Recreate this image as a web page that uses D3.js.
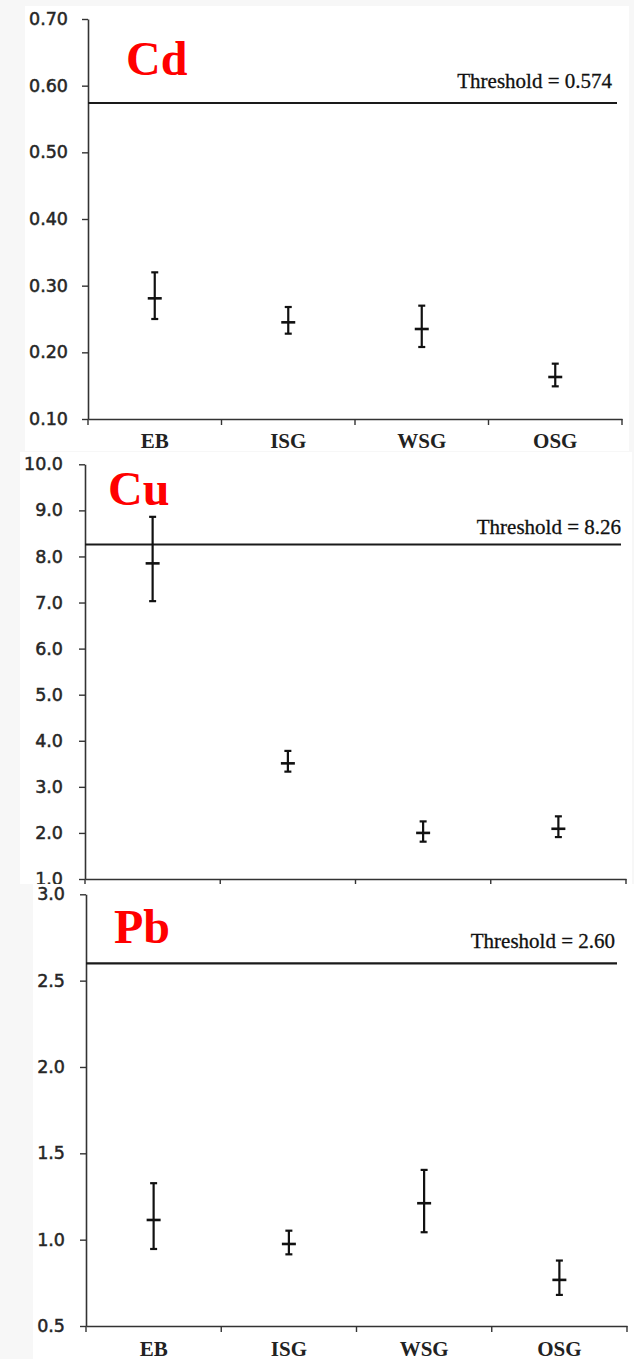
<!DOCTYPE html>
<html>
<head>
<meta charset="utf-8">
<script src="https://cdn.jsdelivr.net/npm/d3@7"></script>
<style>
  html, body { margin: 0; padding: 0; background: #f7f7f7; }
  svg { display: block; }
  .tick-label { font-family: "DejaVu Sans", sans-serif; font-size: 17.5px; fill: #262626; stroke: #262626; stroke-width: 0.5px; }
  .cat-label { font-family: "Liberation Serif", "Times New Roman", serif; font-weight: bold; font-size: 21px; fill: #222; }
  .thr-label { font-family: "Liberation Serif", "Times New Roman", serif; font-size: 21px; fill: #111; stroke: #111; stroke-width: 0.3px; }
  .elem-label { font-family: "Liberation Serif", "Times New Roman", serif; font-weight: bold; font-size: 48px; fill: #ff0000; }
</style>
</head>
<body>
<script>
const categories = ['EB', 'ISG', 'WSG', 'OSG'];

// Cd
const cdMean = [0.281, 0.245, 0.235, 0.163];
const cdUpper = [0.320, 0.268, 0.270, 0.183];
const cdLower = [0.250, 0.228, 0.208, 0.149];
const cdTicks = [0.10, 0.20, 0.30, 0.40, 0.50, 0.60, 0.70];
const cdThreshold = 0.574;

// Cu
const cuMean = [7.85, 3.51, 2.00, 2.09];
const cuUpper = [8.86, 3.78, 2.25, 2.36];
const cuLower = [7.03, 3.33, 1.81, 1.91];
const cuTicks = [1.0, 2.0, 3.0, 4.0, 5.0, 6.0, 7.0, 8.0, 9.0, 10.0];
const cuThreshold = 8.26;

// Pb
const pbMean = [1.114, 0.975, 1.211, 0.767];
const pbUpper = [1.327, 1.052, 1.404, 0.879];
const pbLower = [0.946, 0.915, 1.043, 0.680];
const pbTicks = [0.5, 1.0, 1.5, 2.0, 2.5, 3.0];
const pbThreshold = 2.60;

const W = 634, H = 1359;
const svg = d3.select('body').append('svg').attr('width', W).attr('height', H);

const panels = [
  { name: 'Cd', mean: cdMean, upper: cdUpper, lower: cdLower, ticks: cdTicks, thr: cdThreshold, fmt: '.2f', thrText: 'Threshold = 0.574',
    bg: [25, 6, 604, 445], left: 88, right: 622, top: 19, bottom: 419, pad: 14,
    thrEnd: 617, thrLabel: [612, 88], elem: [126, 75], cats: true, catDy: 29 },
  { name: 'Cu', mean: cuMean, upper: cuUpper, lower: cuLower, ticks: cuTicks, thr: cuThreshold, fmt: '.1f', thrText: 'Threshold = 8.26',
    bg: [20, 452, 612, 432], left: 85, right: 626, top: 464.3, bottom: 879, pad: 16,
    thrEnd: 621, thrLabel: [621, 534], elem: [108, 505], cats: false, catDy: 29 },
  { name: 'Pb', mean: pbMean, upper: pbUpper, lower: pbLower, ticks: pbTicks, thr: pbThreshold, fmt: '.1f', thrText: 'Threshold = 2.60',
    bg: [33, 884, 601, 475], left: 86, right: 627, top: 894.3, bottom: 1326, pad: 15,
    thrEnd: 617, thrLabel: [615, 948], elem: [114, 943], cats: true, catDy: 30 }
];

panels.forEach(p => {
  const g = svg.append('g').attr('class', 'panel-' + p.name);

  g.append('rect')
    .attr('x', p.bg[0]).attr('y', p.bg[1])
    .attr('width', p.bg[2]).attr('height', p.bg[3])
    .attr('fill', '#fff');

  const x = d3.scaleBand().domain(categories).range([p.left, p.right]).padding(0);
  const y = d3.scaleLinear().domain([p.ticks[0], p.ticks[p.ticks.length - 1]]).range([p.bottom, p.top]);

  // y axis
  const yAxis = g.append('g')
    .attr('transform', `translate(${p.left},0)`)
    .call(d3.axisLeft(y).tickValues(p.ticks).tickFormat(d3.format(p.fmt)).tickSize(6).tickSizeOuter(0).tickPadding(p.pad));
  yAxis.select('.domain').attr('stroke', '#333').attr('stroke-width', 1.6);
  yAxis.selectAll('.tick line').attr('stroke', '#333').attr('stroke-width', 1.4);
  yAxis.selectAll('.tick text').attr('class', 'tick-label').attr('fill', null);
  yAxis.attr('font-family', null).attr('font-size', null);

  // x axis: line, ticks on category boundaries, labels under centres
  const xAxis = g.append('g')
    .attr('transform', `translate(0,${p.bottom})`)
    .call(d3.axisBottom(x).tickSize(0).tickSizeOuter(0));
  xAxis.select('.domain').attr('stroke', '#333').attr('stroke-width', 1.6);
  xAxis.attr('font-family', null).attr('font-size', null);
  if (p.cats) {
    xAxis.selectAll('.tick text').attr('class', 'cat-label').attr('fill', null).attr('dy', null)
      .attr('y', p.catDy);
  } else {
    xAxis.selectAll('.tick text').remove();
  }
  const bounds = categories.map(c => x(c)).concat([x.range()[1]]);
  xAxis.selectAll('.bound')
    .data(bounds)
    .join('line')
    .attr('class', 'bound')
    .attr('x1', d => d).attr('x2', d => d)
    .attr('y1', 0).attr('y2', 6)
    .attr('stroke', '#333').attr('stroke-width', 1.4);

  // threshold
  g.append('line')
    .attr('x1', p.left).attr('x2', p.thrEnd)
    .attr('y1', y(p.thr)).attr('y2', y(p.thr))
    .attr('stroke', '#1a1a1a').attr('stroke-width', 2.2);
  g.append('text')
    .attr('class', 'thr-label')
    .attr('x', p.thrLabel[0]).attr('y', p.thrLabel[1])
    .attr('text-anchor', 'end')
    .text(p.thrText);

  g.append('text')
    .attr('class', 'elem-label')
    .attr('x', p.elem[0]).attr('y', p.elem[1])
    .text(p.name);

  // error bars
  const rows = categories.map((c, i) => ({ cat: c, mean: p.mean[i], lo: p.lower[i], hi: p.upper[i] }));
  const bars = g.append('g').selectAll('g')
    .data(rows)
    .join('g')
    .attr('transform', d => `translate(${x(d.cat) + x.bandwidth() / 2},0)`)
    .attr('stroke', '#111').attr('stroke-width', 2.2);
  bars.append('line').attr('x1', 0).attr('x2', 0).attr('y1', d => y(d.hi)).attr('y2', d => y(d.lo));
  bars.append('line').attr('x1', -3.5).attr('x2', 3.5).attr('y1', d => y(d.hi)).attr('y2', d => y(d.hi));
  bars.append('line').attr('x1', -3.5).attr('x2', 3.5).attr('y1', d => y(d.lo)).attr('y2', d => y(d.lo));
  bars.append('line').attr('x1', -7).attr('x2', 7).attr('y1', d => y(d.mean)).attr('y2', d => y(d.mean)).attr('stroke-width', 2.6);
});
</script>
</body>
</html>
